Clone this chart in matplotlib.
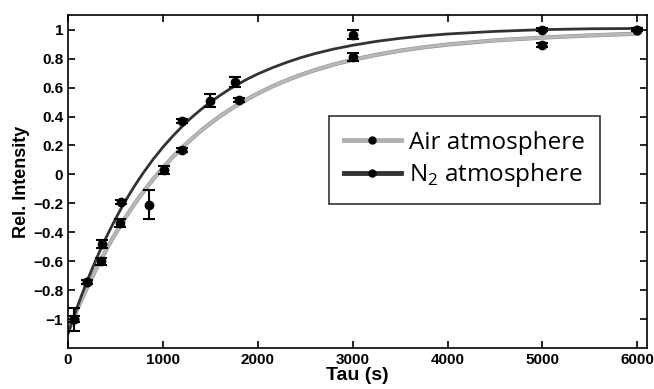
import numpy as np
import matplotlib
matplotlib.use("Agg")
import matplotlib.pyplot as plt
import matplotlib.patheffects as pe

air_tau = [60, 200, 350, 550, 850, 1010, 1200, 1800, 3000, 5000, 6000]
air_y = [-1.0, -0.745, -0.60, -0.335, -0.21, 0.03, 0.17, 0.515, 0.81, 0.895, 1.0]
air_err = [0.08, 0.015, 0.025, 0.03, 0.10, 0.025, 0.015, 0.015, 0.03, 0.015, 0.01]

n2_tau = [60, 200, 360, 560, 1200, 1495, 1760, 3000, 5000, 6000]
n2_y = [-1.0, -0.745, -0.48, -0.19, 0.37, 0.51, 0.64, 0.965, 1.0, 1.0]
n2_err = [0.02, 0.015, 0.025, 0.015, 0.015, 0.045, 0.035, 0.03, 0.01, 0.01]

# fitted curves, sampled off the figure
fit_tau = [0, 50, 100, 150, 200, 250, 300, 350, 400, 450,
           500, 550, 600, 650, 700, 750, 800, 900, 1000, 1100,
           1200, 1300, 1400, 1500, 1600, 1700, 1800, 1900, 2000, 2150,
           2300, 2450, 2600, 2800, 3000, 3250, 3500, 3750, 4000, 4500,
           5000, 5500, 6000]
n2_fit = [-1.100, -1.003, -0.911, -0.823, -0.738, -0.658, -0.581, -0.508, -0.438, -0.372,
          -0.308, -0.247, -0.189, -0.134, -0.081, -0.031, 0.017, 0.107, 0.188, 0.262,
          0.330, 0.392, 0.448, 0.499, 0.545, 0.588, 0.626, 0.662, 0.694, 0.736,
          0.773, 0.806, 0.834, 0.866, 0.892, 0.919, 0.940, 0.957, 0.970, 0.988,
          1.000, 1.006, 1.008]
air_fit = [-1.085, -1.005, -0.928, -0.854, -0.782, -0.714, -0.648, -0.585, -0.524, -0.465,
           -0.409, -0.355, -0.303, -0.253, -0.205, -0.159, -0.115, -0.031, 0.046, 0.118,
           0.183, 0.244, 0.301, 0.353, 0.401, 0.445, 0.486, 0.524, 0.559, 0.607,
           0.649, 0.687, 0.720, 0.759, 0.792, 0.826, 0.855, 0.878, 0.897, 0.926,
           0.945, 0.960, 0.972]

plt.rcParams['font.family'] = ['Liberation Sans', 'DejaVu Sans']
plt.rcParams['font.weight'] = 'bold'

fig = plt.figure(figsize=(6.54, 3.89), dpi=100)
ax = fig.add_axes([0.104, 0.105, 0.885, 0.856])

ax.plot(fit_tau, air_fit, color='#b8b8b8', lw=2.2, solid_joinstyle='round',
        path_effects=[pe.Stroke(linewidth=3.0, foreground='#909090'), pe.Normal()])
ax.plot(fit_tau, n2_fit, color='#333333', lw=2.0, solid_joinstyle='round')

ax.errorbar(air_tau, air_y, yerr=air_err, fmt='o', color='black', ms=6,
            capsize=4, elinewidth=1.5, capthick=1.5)
ax.errorbar(n2_tau, n2_y, yerr=n2_err, fmt='o', color='black', ms=6,
            capsize=4, elinewidth=1.5, capthick=1.5)

# legend handles
h1, = ax.plot([], [], color='#b0b0b0', lw=3.5, marker='o', ms=5, mfc='black', mec='black')
h2, = ax.plot([], [], color='#333333', lw=3.5, marker='o', ms=5, mfc='black', mec='black')
leg = ax.legend([h1, h2], ['Air atmosphere', r'N$_\mathregular{2}$ atmosphere'],
                loc='upper left', bbox_to_anchor=(0.451, 0.696), handlelength=2.35,
                handletextpad=0.35, borderpad=0.6, labelspacing=0.25, frameon=True,
                fancybox=False, prop={'family': 'Open Sans', 'size': 17.5, 'weight': 'normal'},
                numpoints=1, borderaxespad=0)
leg.get_frame().set_edgecolor('black')
leg.get_frame().set_linewidth(1.2)

ax.set_xlim(0, 6100)
ax.set_ylim(-1.2, 1.1)
ax.set_xticks([0, 1000, 2000, 3000, 4000, 5000, 6000])
ax.set_yticks([-1, -0.8, -0.6, -0.4, -0.2, 0, 0.2, 0.4, 0.6, 0.8, 1])
ax.set_yticklabels(['\u22121', '\u22120.8', '\u22120.6', '\u22120.4', '\u22120.2', '0',
                    '0.2', '0.4', '0.6', '0.8', '1'])
ax.tick_params(direction='in', top=True, right=True, length=5, width=1.2, labelsize=11)
for s in ax.spines.values():
    s.set_linewidth(1.2)
ax.set_xlabel('Tau (s)', fontsize=14, fontweight='bold', labelpad=0)
ax.set_ylabel('Rel. Intensity', fontsize=13, fontweight='bold', labelpad=2)

fig.savefig('out.png', dpi=100)
